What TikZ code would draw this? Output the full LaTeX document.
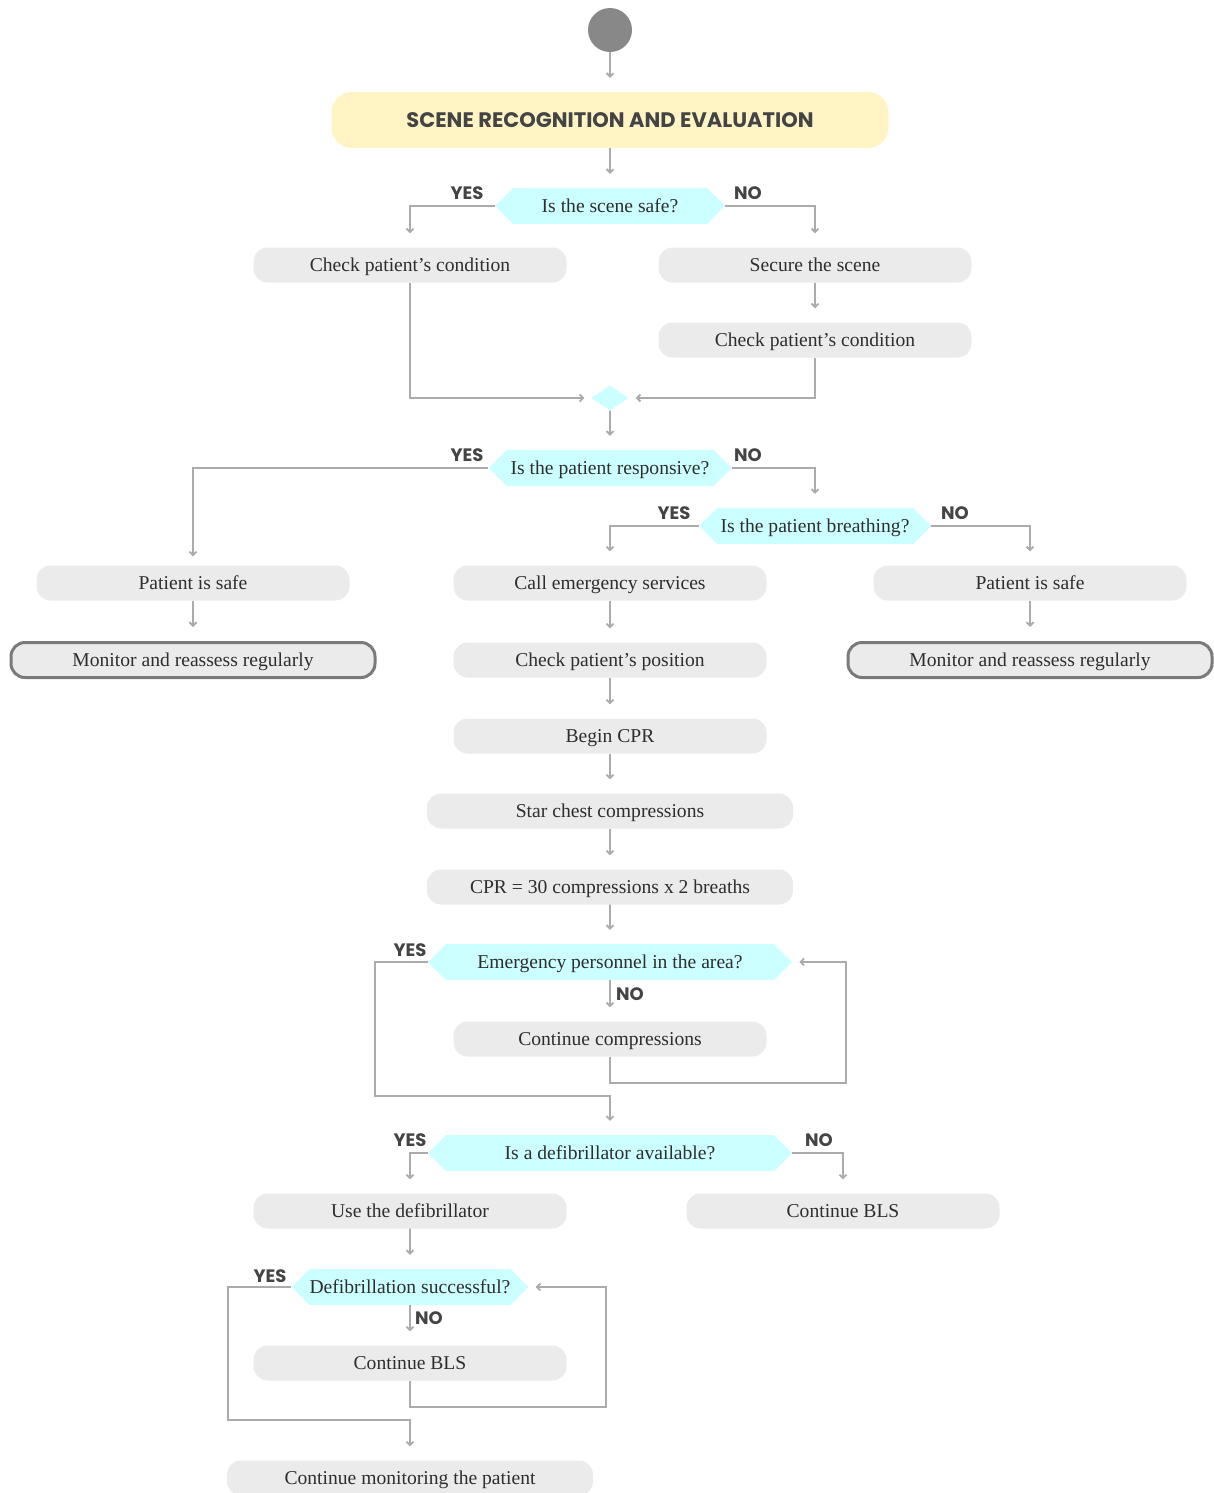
\documentclass[tikz,border=0pt]{standalone}
\usepackage{fontspec}
\setmainfont{Liberation Serif}
\newfontfamily\popfont{Poppins}
\usetikzlibrary{arrows.meta,shapes.symbols,shapes.geometric}

\definecolor{linegray}{HTML}{ABABAB}
\definecolor{boxgray}{HTML}{EBEBEB}
\definecolor{qcyan}{HTML}{CCFFFF}
\definecolor{scenebg}{HTML}{FFF5C4}
\definecolor{textgray}{HTML}{2E2E2E}
\definecolor{labgray}{HTML}{444444}
\definecolor{edgegray}{HTML}{7A7A7A}
\definecolor{startgray}{HTML}{888888}

\tikzset{
  stepbox/.style={rounded corners=14pt, fill=boxgray, minimum width=313pt,
    minimum height=35pt, inner sep=0pt, text=textgray,
    text height=14pt, text depth=2pt,
    font=\fontsize{19.6}{22}\selectfont},
  widebox/.style={stepbox, minimum width=366pt},
  endbox/.style={stepbox, draw=edgegray, line width=3pt, minimum width=364pt},
  question/.style={shape=signal, signal to=west and east, signal pointer angle=90,
    fill=qcyan, minimum height=36pt, inner sep=0pt, text=textgray,
    text height=14pt, text depth=2pt,
    font=\fontsize{19.6}{22}\selectfont},
  answer/.style={text=labgray, inner sep=0pt,
    font=\popfont\bfseries\fontsize{18}{21}\selectfont},
  flow/.style={draw=linegray, line width=1.8pt,
    -{Straight Barb[length=3.5pt,width=7pt]}, shorten >=14pt},
}

\begin{document}
\begin{tikzpicture}[x=1pt, y=-1pt]
    \useasboundingbox (0,0) rectangle (1213,1493);

    % Start and scene
    \node[circle, fill=startgray, minimum size=44pt, inner sep=0pt] (start) at (610,30) {};
    \node[rounded corners=20pt, fill=scenebg, minimum width=557pt, minimum height=56pt,
      text=labgray, font=\popfont\bfseries\fontsize{21}{25}\selectfont] (scene) at (610,120)
      {SCENE RECOGNITION AND EVALUATION};

    % Is the scene safe?
    \node[question, minimum width=230pt] (qsafe) at (610,206) {Is the scene safe?};
    \node[answer] (ysafe) at (467,193) {YES};
    \node[answer] (nsafe) at (748,193) {NO};
    \node[stepbox] (check1) at (410,265) {Check patient’s condition};
    \node[stepbox] (secure) at (815,265) {Secure the scene};
    \node[stepbox] (check2) at (815,340) {Check patient’s condition};
    \node[diamond, fill=qcyan, minimum width=37pt, minimum height=25pt, inner sep=0pt] (join) at (610,398) {};

    % Responsive / breathing
    \node[question, minimum width=243pt] (qresp) at (610,468) {Is the patient responsive?};
    \node[answer] (yresp) at (467,455) {YES};
    \node[answer] (nresp) at (748,455) {NO};
    \node[question, minimum width=232pt] (qbreath) at (815,526) {Is the patient breathing?};
    \node[answer] (ybreath) at (674,513) {YES};
    \node[answer] (nbreath) at (955,513) {NO};

    \node[stepbox] (safeL) at (193,583) {Patient is safe};
    \node[endbox] (monL) at (193,660) {Monitor and reassess regularly};
    \node[stepbox] (safeR) at (1030,583) {Patient is safe};
    \node[endbox] (monR) at (1030,660) {Monitor and reassess regularly};

    % CPR column
    \node[stepbox] (call) at (610,583) {Call emergency services};
    \node[stepbox] (pos) at (610,660) {Check patient’s position};
    \node[stepbox] (cpr) at (610,736) {Begin CPR};
    \node[widebox] (chest) at (610,811) {Star chest compressions};
    \node[widebox] (ratio) at (610,887) {CPR = 30 compressions x 2 breaths};

    \node[question, minimum width=364pt] (qpers) at (610,962) {Emergency personnel in the area?};
    \node[answer] (ypers) at (410,950) {YES};
    \node[answer] (npers) at (630,994) {NO};
    \node[stepbox] (contc) at (610,1039) {Continue compressions};

    % Defibrillator
    \node[question, minimum width=364pt] (qdefib) at (610,1153) {Is a defibrillator available?};
    \node[answer] (ydefib) at (410,1140) {YES};
    \node[answer] (ndefib) at (819,1140) {NO};
    \node[stepbox] (usedef) at (410,1211) {Use the defibrillator};
    \node[stepbox] (blsR) at (843,1211) {Continue BLS};

    \node[question, minimum width=232pt] (qsucc) at (410,1287) {Defibrillation successful?};
    \node[answer] (ysucc) at (270,1276) {YES};
    \node[answer] (nsucc) at (429,1318) {NO};
    \node[stepbox] (bls) at (410,1363) {Continue BLS};
    \node[widebox] (monitor) at (410,1478) {Continue monitoring the patient};

    % Connectors
    \draw[flow] (start) -- (scene);
    \draw[flow] (scene) -- (qsafe);
    \draw[flow] (qsafe.west) -| (check1.north);
    \draw[flow] (qsafe.east) -| (secure.north);
    \draw[flow] (secure) -- (check2);
    \draw[flow, shorten >=7pt] (check1.south) |- (join.west);
    \draw[flow, shorten >=7pt] (check2.south) |- (join.east);
    \draw[flow] (join) -- (qresp);
    \draw[flow, shorten >=9pt] (qresp.west) -| (safeL.north);
    \draw[flow] (qresp.east) -| (qbreath.north);
    \draw[flow] (qbreath.west) -| (call.north);
    \draw[flow] (qbreath.east) -| (safeR.north);
    \draw[flow] (safeL) -- (monL);
    \draw[flow] (safeR) -- (monR);
    \draw[flow] (call) -- (pos);
    \draw[flow] (pos) -- (cpr);
    \draw[flow] (cpr) -- (chest);
    \draw[flow] (chest) -- (ratio);
    \draw[flow] (ratio) -- (qpers);
    \draw[flow] (qpers) -- (contc);
    \draw[flow, shorten >=7pt] (contc.south) |- (846,1083) |- (qpers.east);
    \draw[flow] (qpers.west) -| (375,1096) -| (qdefib.north);
    \draw[flow] (qdefib.west) -| (usedef.north);
    \draw[flow] (qdefib.east) -| (blsR.north);
    \draw[flow] (usedef) -- (qsucc);
    \draw[flow] (qsucc) -- (bls);
    \draw[flow, shorten >=7pt] (bls.south) |- (606,1407) |- (qsucc.east);
    \draw[flow] (qsucc.west) -| (228,1420) -| (monitor.north);

\end{tikzpicture}
\end{document}
